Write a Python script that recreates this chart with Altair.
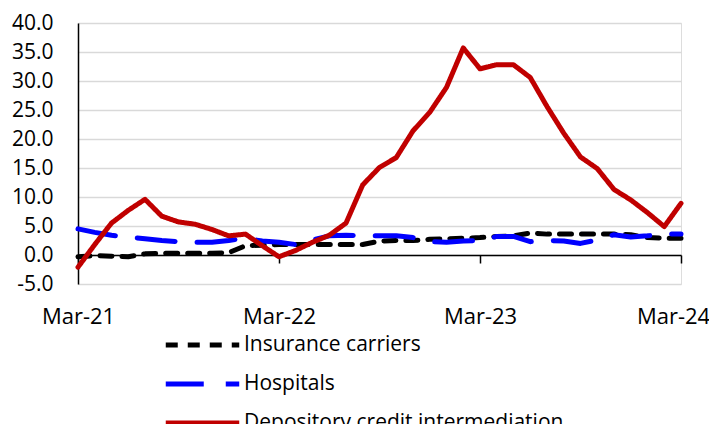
import altair as alt
import pandas as pd

months = ["Mar-21","Apr-21","May-21","Jun-21","Jul-21","Aug-21","Sep-21","Oct-21","Nov-21","Dec-21",
          "Jan-22","Feb-22","Mar-22","Apr-22","May-22","Jun-22","Jul-22","Aug-22","Sep-22","Oct-22",
          "Nov-22","Dec-22","Jan-23","Feb-23","Mar-23","Apr-23","May-23","Jun-23","Jul-23","Aug-23",
          "Sep-23","Oct-23","Nov-23","Dec-23","Jan-24","Feb-24","Mar-24"]

insurance = [-0.3, -0.1, -0.2, -0.3, 0.2, 0.3, 0.3, 0.3, 0.3, 0.4,
             1.6, 1.7, 1.8, 1.8, 1.8, 1.8, 1.8, 1.8, 2.4, 2.5,
             2.5, 2.7, 2.8, 2.9, 3.0, 3.2, 3.3, 3.8, 3.6, 3.6,
             3.6, 3.6, 3.6, 3.5, 3.0, 2.9, 2.9]

hospitals = [4.5, 3.9, 3.4, 3.1, 2.8, 2.5, 2.3, 2.2, 2.2, 2.5,
             2.9, 2.4, 2.2, 1.8, 2.6, 3.3, 3.4, 3.3, 3.3, 3.3,
             3.0, 2.3, 2.2, 2.4, 2.5, 3.2, 3.2, 2.3, 2.5, 2.4,
             2.0, 2.6, 3.5, 3.1, 3.3, 3.6, 3.6]

depository = [-2.1, 1.8, 5.5, 7.7, 9.6, 6.7, 5.7, 5.3, 4.4, 3.3,
              3.6, 1.6, -0.3, 0.8, 2.2, 3.4, 5.5, 12.1, 15.1, 16.8,
              21.4, 24.6, 28.9, 35.7, 32.1, 32.8, 32.8, 30.6, 25.6, 21.0,
              16.9, 14.9, 11.3, 9.5, 7.3, 4.9, 8.9]

series_names = ["Insurance carriers", "Hospitals", "Depository credit intermediation"]
series_values = [insurance, hospitals, depository]
x_labels = ["Mar-21", "Mar-22", "Mar-23", "Mar-24"]
y_ticks = [-5, 0, 5, 10, 15, 20, 25, 30, 35, 40]

rows = []
for name, vals in zip(series_names, series_values):
    for m, v in zip(months, vals):
        rows.append({"month": m, "value": v, "series": name})
df = pd.DataFrame(rows)

FONT = "Open Sans"
FS = 21

color_scale = alt.Scale(domain=series_names, range=["#000000", "#0000FF", "#C00000"])
dash_scale = alt.Scale(domain=series_names, range=[[12, 10], [38, 22], [1, 0]])

legend = alt.Legend(
    title=None, orient="none", legendX=85, legendY=311, direction="vertical",
    symbolType="stroke", symbolSize=5400, symbolStrokeWidth=5,
    labelFont=FONT, labelFontSize=FS, labelColor="#000000", labelOffset=2,
    clipHeight=22, rowPadding=17, labelLimit=500,
)

y_scale = alt.Scale(domain=[-5, 40], nice=False, zero=False)
x_scale = alt.Scale(type="point", padding=0)

x_main = alt.X(
    "month:O", sort=months, title=None, scale=x_scale,
    axis=alt.Axis(orient="bottom", values=x_labels, labelAngle=0, domain=False, ticks=False, grid=False,
                  labelFont=FONT, labelFontSize=22, labelColor="#000000", labelPadding=22,
                  labelOverlap=False, labelBound=False,
                  labelOffset=alt.condition("datum.value == 'Mar-24'", alt.value(-8), alt.value(0))),
)

y_axis = alt.Axis(values=y_ticks, labelExpr="replace(format(datum.value, '.1f'), '\u2212', '-')",
                  labelOverlap=False, labelFlush=False, labelBound=False,
                  ticks=False, domain=True, domainColor="#000000", domainWidth=1.5,
                  grid=True, gridColor="#d9d9d9", gridWidth=1.5,
                  labelFont=FONT, labelFontSize=FS, labelColor="#000000", labelPadding=25)

lines = alt.Chart(df).mark_line(strokeWidth=5, strokeCap="round", strokeJoin="round").encode(
    x=x_main,
    y=alt.Y("value:Q", title=None, scale=y_scale, axis=y_axis),
    color=alt.Color("series:N", scale=color_scale, legend=legend, sort=series_names),
    strokeDash=alt.StrokeDash("series:N", scale=dash_scale, legend=legend, sort=series_names),
    order=alt.Order("series_order:Q"),
).transform_calculate(
    series_order="indexof(['Insurance carriers','Hospitals','Depository credit intermediation'], datum.series)"
)

zero_axis = alt.Chart(df).mark_line(opacity=0).encode(
    x=alt.X("month:O", sort=months, title=None, scale=x_scale,
            axis=alt.Axis(orient="bottom", values=x_labels, labels=False, ticks=True, tickSize=8,
                          tickColor="#000000", tickWidth=1.5, domain=True,
                          domainColor="#000000", domainWidth=1.5, grid=False,
                          offset=-29)),
    y=alt.Y("value:Q", title=None, scale=y_scale, axis=y_axis),
    detail="series:N",
)

chart = alt.layer(lines, zero_axis).resolve_axis(x="independent").properties(
    width=603, height=261,
    autosize=alt.AutoSizeParams(type="none"),
    padding={"left": 70, "top": 15, "right": 28, "bottom": 140},
).configure_view(stroke="#d9d9d9", strokeWidth=1.5).configure(background="#ffffff")

chart.save("out.html", embed_options={"renderer": "svg", "actions": False})
